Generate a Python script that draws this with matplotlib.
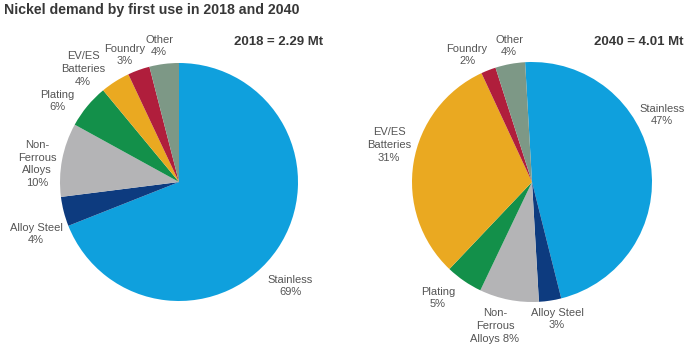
import matplotlib
matplotlib.use("Agg")
import matplotlib.pyplot as plt

plt.rcParams['font.family'] = ['Liberation Sans', 'DejaVu Sans']

# Nickel first-use shares (%), listed clockwise from 12 o'clock
categories = ["Stainless", "Alloy Steel", "Non-Ferrous Alloys", "Plating",
              "EV/ES Batteries", "Foundry", "Other"]
share_2018 = [69, 4, 10, 6, 4, 3, 4]
share_2040 = [47, 3, 8, 5, 31, 2, 4]
total_2018 = 2.29
total_2040 = 4.01

colors = ["#0fa0dd", "#0d3b7f", "#b4b4b6", "#13904a", "#eaa921", "#b01e3c", "#7d9886"]

W, H = 693, 344
fig = plt.figure(figsize=(W / 100, H / 100), dpi=100)
ax = fig.add_axes([0, 0, 1, 1])


def py(y):
    return H - y


def draw_pie(values, cx, cy, r, start):
    ax.pie(values, colors=colors, startangle=start, counterclock=False,
           center=(cx, py(cy)), radius=r, frame=True,
           wedgeprops=dict(linewidth=0))


draw_pie(share_2018, 179, 182, 119, 90)
draw_pie(share_2040, 532, 182, 120, 93.3)

ax.set_xlim(0, W)
ax.set_ylim(0, H)
ax.set_aspect('equal')
ax.axis('off')

lab_kw = dict(ha='center', va='center', fontsize=8, color='#555555', linespacing=1.35)


def label(x, y, name, pct):
    ax.text(x, py(y), f"{name}\n{pct}%", **lab_kw)


# 2018 labels (centre positions in pixels)
pos_2018 = {
    "Stainless": (290, 286),
    "Alloy Steel": (36, 234),
    "Non-Ferrous Alloys": (37, 164),
    "Plating": (57, 101),
    "EV/ES Batteries": (83, 69),
    "Foundry": (125, 55),
    "Other": (159, 46),
}
names_2018 = {"Non-Ferrous Alloys": "Non-\nFerrous\nAlloys",
              "EV/ES Batteries": "EV/ES\nBatteries"}
for cat, val in zip(categories, share_2018):
    x, y = pos_2018[cat]
    label(x, y, names_2018.get(cat, cat), val)

pos_2040 = {
    "Stainless": (662, 115),
    "Alloy Steel": (557, 319),
    "Non-Ferrous Alloys": (495, 326),
    "Plating": (438, 298),
    "EV/ES Batteries": (389, 145),
    "Foundry": (467, 55),
    "Other": (509, 46),
}
for cat, val in zip(categories, share_2040):
    x, y = pos_2040[cat]
    if cat == "Non-Ferrous Alloys":
        ax.text(x, py(y), f"Non-\nFerrous\nAlloys {val}%", **lab_kw)
    elif cat == "EV/ES Batteries":
        label(x, y, "EV/ES\nBatteries", val)
    else:
        label(x, y, cat, val)

ax.text(4, py(10), "Nickel demand by first use in 2018 and 2040", ha='left', va='center',
        fontsize=10.2, fontweight='bold', color='#383838')
ax.text(323, py(42), f"2018 = {total_2018:.2f} Mt", ha='right', va='center',
        fontsize=9.5, fontweight='bold', color='#383838')
ax.text(683, py(42), f"2040 = {total_2040:.2f} Mt", ha='right', va='center',
        fontsize=9.5, fontweight='bold', color='#383838')

fig.savefig("out.png", dpi=100, facecolor='white')
